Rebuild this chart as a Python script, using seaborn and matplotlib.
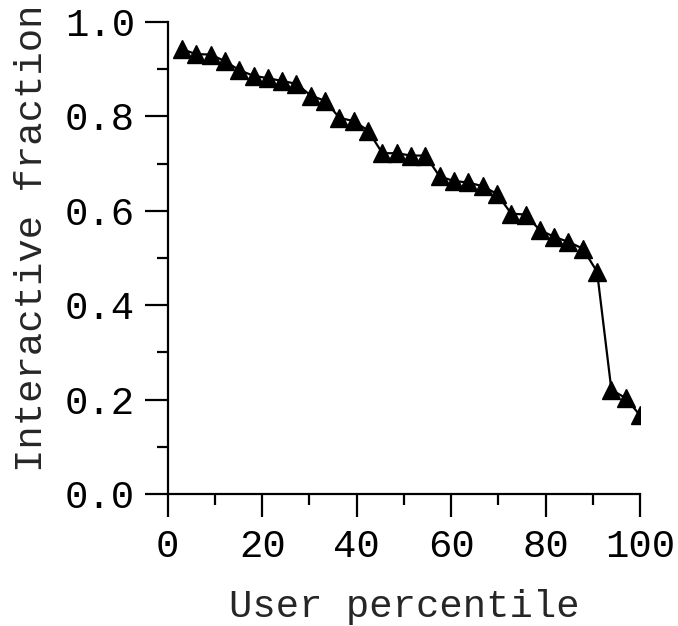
import matplotlib
matplotlib.use("Agg")
import matplotlib.pyplot as plt
from matplotlib.ticker import MultipleLocator
import seaborn as sns
import pandas as pd

user_percentile = [3.03, 6.06, 9.09, 12.12, 15.15, 18.18, 21.21, 24.24, 27.27,
                   30.30, 33.33, 36.36, 39.39, 42.42, 45.45, 48.48, 51.52, 54.55,
                   57.58, 60.61, 63.64, 66.67, 69.70, 72.73, 75.76, 78.79, 81.82,
                   84.85, 87.88, 90.91, 93.94, 96.97, 100.0]
interactive_fraction = [0.942, 0.932, 0.931, 0.917, 0.898, 0.886, 0.881, 0.875, 0.869,
                        0.844, 0.833, 0.797, 0.790, 0.770, 0.722, 0.722, 0.717, 0.717,
                        0.673, 0.663, 0.660, 0.652, 0.636, 0.594, 0.592, 0.559, 0.545,
                        0.534, 0.520, 0.471, 0.221, 0.203, 0.167]
x_ticks = [0, 20, 40, 60, 80, 100]
x_ticklabels = ["0", "20", "40", "60", "80", "100"]
y_ticks = [0.0, 0.2, 0.4, 0.6, 0.8, 1.0]
y_ticklabels = ["0.0", "0.2", "0.4", "0.6", "0.8", "1.0"]

sns.set_style("ticks")
plt.rcParams["font.family"] = ["Liberation Mono", "DejaVu Sans Mono"]
plt.rcParams["font.size"] = 28

df = pd.DataFrame({"pct": user_percentile, "frac": interactive_fraction})

fig = plt.figure(figsize=(6.78, 6.26), dpi=100)
ax = fig.add_axes([167.7 / 678, 1 - 494 / 626, (640 - 167.7) / 678, (494 - 22) / 626])

sns.lineplot(data=df, x="pct", y="frac", ax=ax, color="black", linewidth=1.6,
             marker="^", markersize=13.5, markeredgecolor="black",
             markerfacecolor="black", markeredgewidth=1)

ax.set_xlim(0, 100)
ax.set_ylim(0, 1.0)
ax.set_xticks(x_ticks)
ax.set_xticklabels(x_ticklabels)
ax.set_yticks(y_ticks)
ax.set_yticklabels(y_ticklabels)
ax.xaxis.set_minor_locator(MultipleLocator(10))
ax.yaxis.set_minor_locator(MultipleLocator(0.1))
ax.tick_params(which="major", direction="out", length=16.5, width=1.6,
               labelsize=28, pad=7, color="black", labelcolor="black")
ax.tick_params(axis="x", which="major", pad=9)
ax.tick_params(which="minor", direction="out", length=8, width=1.6, color="black")

ax.set_xlabel("User percentile", fontsize=28, labelpad=17)
ax.set_ylabel("Interactive fraction", fontsize=28)
ax.yaxis.set_label_coords(-0.25, 0.542)

sns.despine(ax=ax)
for s in ["left", "bottom"]:
    ax.spines[s].set_linewidth(1.6)
    ax.spines[s].set_color("black")

fig.savefig("out.png", dpi=100)
